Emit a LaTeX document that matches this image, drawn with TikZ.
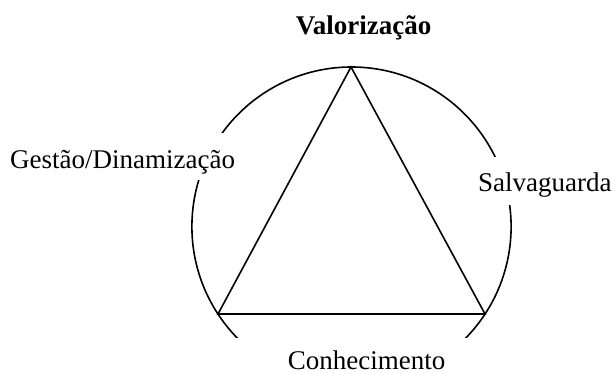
\documentclass[tikz,border=0pt]{standalone}
\usepackage{fontspec}
\setmainfont{Liberation Serif}
\begin{document}
\begin{tikzpicture}[x=1pt,y=-1pt,
  line/.style={line width=1.6pt, line join=miter},
  lbl/.style={font=\fontsize{27}{31}\selectfont, inner sep=0pt},
  mask/.style={fill=white}]
\useasboundingbox (0,0) rectangle (616,374);
% circumscribed circle
\coordinate (cc) at (351.5,226.6);
\draw[line] (cc) circle (159.6);
% white boxes behind the labels that interrupt the circle
\fill[mask] (5,133) rectangle (245,180);
\fill[mask] (475,157) rectangle (616,205);
\fill[mask] (200,338) rectangle (520,380);
% triangle
\coordinate (top) at (351,67);
\coordinate (bl) at (218,314);
\coordinate (br) at (485,314);
\draw[line] (top) -- (bl) -- (br) -- cycle;
% labels
\node[lbl, anchor=base, font=\fontsize{27}{31}\selectfont\bfseries] (val) at (363.5,35) {Valorização};
\node[lbl, anchor=base west] (ges) at (10,169) {Gestão/Dinamização};
\node[lbl, anchor=base west] (sal) at (478,192) {Salvaguarda};
\node[lbl, anchor=base, text depth=0pt] (con) at (366.5,369.5) {Conhecimento};
\end{tikzpicture}
\end{document}
